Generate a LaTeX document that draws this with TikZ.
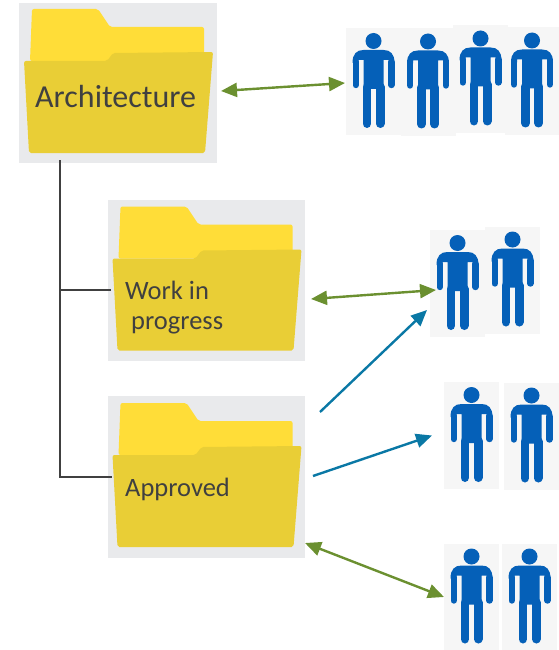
\documentclass[tikz,border=0pt]{standalone}
\usepackage{fontspec}
\setmainfont{Carlito}
\usetikzlibrary{arrows.meta}
\definecolor{panelgrey}{HTML}{E9EAEC}
\definecolor{peoplegrey}{HTML}{F6F6F6}
\definecolor{folderback}{HTML}{FFDD38}
\definecolor{folderfront}{HTML}{E9CE36}
\definecolor{personblue}{HTML}{0560B8}
\definecolor{linkgreen}{HTML}{6B9030}
\definecolor{linkteal}{HTML}{0A78A5}
\definecolor{treegrey}{HTML}{404040}
\tikzset{
	panel/.style={fill=panelgrey, inner sep=0pt, outer sep=0pt, minimum width=197pt, minimum height=161pt},
	peoplebox/.style={fill=peoplegrey, inner sep=0pt, outer sep=0pt, minimum width=55pt, minimum height=107pt},
	foldertext/.style={text=treegrey, inner sep=0pt, align=left},
	treeline/.style={color=treegrey, line width=2.4pt},
	both/.style={color=linkgreen, line width=2.4pt, {Triangle[length=16pt,width=14pt]}-{Triangle[length=16pt,width=14pt]}},
	oneway/.style={color=linkteal, line width=2.4pt, -{Triangle[length=16pt,width=14pt]}},
	folder/.pic={
		\fill[folderback, rounded corners=2pt]
		(-88,-22) --
		(-86,-74) --
		(-20,-74) --
		(-8,-56) --
		(86,-56) --
		(86,-22) --
		cycle;
		\fill[folderfront, rounded corners=2pt]
		(-94,-22) --
		(-11,-22) --
		(-5,-30) --
		(95,-31) --
		(87,70) --
		(-89,70) --
		cycle;
	},
	person/.pic={
		\begin{scope}[yshift=40.5pt]
			\fill[personblue] (0,0) circle (8);
			\fill[personblue]
			(-21,22) .. controls (-21,13) and (-17,9) .. (-10,9) --
			(10,9) .. controls (17,9) and (21,13) .. (21,22) --
			(15,22) --
			(15,19) --
			(10,19) --
			(10,48) --
			(-10,48) --
			(-10,19) --
			(-15,19) --
			(-15,22) --
			cycle;
			\draw[personblue, line width=6.4pt, line cap=round] (-17.8,21) -- (-17.8,44);
			\draw[personblue, line width=6.4pt, line cap=round] (17.8,21) -- (17.8,44);
			\draw[personblue, line width=8.8pt, line cap=round] (-6.6,46) -- (-6.6,82.6);
			\draw[personblue, line width=8.8pt, line cap=round] (6.6,46) -- (6.6,82.6);
		\end{scope}
	}
}
\begin{document}
\begin{tikzpicture}[x=1pt, y=-1pt]
	\useasboundingbox (0,0) rectangle (559,650);
	% cartelle
	\node[panel, minimum width=198pt, minimum height=160pt] (arch) at (118,83) {};
	\node[panel] (wip) at (206.5,280.5) {};
	\node[panel, minimum height=162pt] (approved) at (206.5,477) {};
	\pic at (arch) {folder};
	\pic at (wip) {folder};
	\pic at (approved) {folder};
	\node[foldertext, font=\fontsize{32}{36}\selectfont, anchor=base west] (archlabel) at (35,107) {Architecture};
	\node[foldertext, font=\fontsize{26.5}{30}\selectfont, anchor=base west] (wiplabel) at (125,329) {Work in\\\hspace*{6pt}progress};
	\node[foldertext, font=\fontsize{26.5}{30}\selectfont, anchor=base west] (approvedlabel) at (125,496) {Approved};
	% persone
	\foreach \name/\px/\py in {a1/373.5/81.5, a2/428/82, a3/480.5/79, a4/532/81,
		b1/457.5/283.5, b2/512.5/280,
		c1/471.5/435.5, c2/531.5/436,
		d1/471.5/597, d2/529.5/597} {
		\node[peoplebox] (\name) at (\px,\py) {};
		\pic at (\name) {person};
	}
	% albero
	\coordinate (trunk) at (60,160);
	\coordinate (branch) at (60,290);
	\draw[treeline] (trunk) |- ([xshift=4pt]approved.west);
	\draw[treeline] (branch) -- ([xshift=3pt, yshift=-9.5pt]wip.west);
	% frecce
	\draw[both] ([xshift=4pt, yshift=-8pt]arch.east) -- ([xshift=-1pt, yshift=-1.5pt]a1.west);
	\draw[both] ([xshift=6pt, yshift=-18.5pt]wip.east) -- ([xshift=6pt, yshift=-6.5pt]b1.west);
	\draw[oneway] ([xshift=15pt, yshift=65pt]approved.east) -- ([xshift=-3pt, yshift=-26.5pt]b1.west);
	\draw[oneway] ([xshift=8pt, yshift=1pt]approved.east) -- ([xshift=-12pt]c1.west);
	\draw[both] ([yshift=-66pt]approved.east) -- (d1.west);
\end{tikzpicture}
\end{document}
